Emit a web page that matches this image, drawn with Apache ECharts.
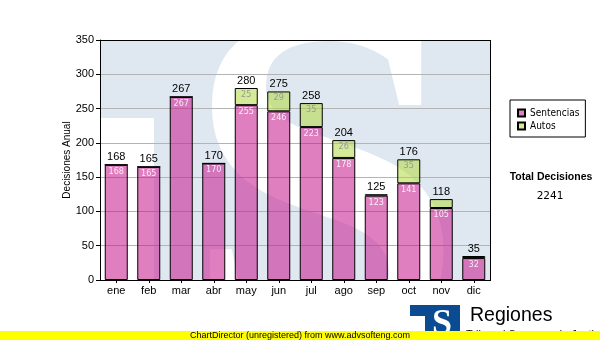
<!DOCTYPE html>
<html>
<head>
<meta charset="utf-8">
<script src="https://cdn.jsdelivr.net/npm/echarts@6/dist/echarts.min.js"></script>
<style>
  html, body { margin: 0; padding: 0; background: #fff; }
  #chart { width: 600px; height: 340px; }
</style>
</head>
<body>
<div id="chart"></div>
<script>
// Monthly decisions, split by type
const months = ['ene', 'feb', 'mar', 'abr', 'may', 'jun', 'jul', 'ago', 'sep', 'oct', 'nov', 'dic'];
const sentencias = [168, 165, 267, 170, 255, 246, 223, 178, 123, 141, 105, 32];
const autos = [0, 0, 0, 0, 25, 29, 35, 26, 2, 35, 13, 3];
const seriesNames = ['Sentencias', 'Autos'];
const yMin = 0;
const yMax = 350;
const yStep = 50;
const yTitle = 'Decisiones Anual';
const totalTitle = 'Total Decisiones';

const totals = months.map((_, i) => sentencias[i] + autos[i]);
const grandTotal = totals.reduce((a, b) => a + b, 0);

const SANS = '"Liberation Sans", Arial, sans-serif';
const SMALL = '"DejaVu Sans Condensed", "DejaVu Sans", sans-serif';

const chart = echarts.init(document.getElementById('chart'), null, { renderer: 'canvas' });

// hide the inner value label on segments too thin to hold it
const segData = (arr) => arr.map(v => ({ value: v, label: { show: v >= 15 } }));

const option = {
  animation: false,
  backgroundColor: '#ffffff',
  grid: { left: 100, right: 110, top: 40, bottom: 60, containLabel: false },
  legend: {
    data: seriesNames,
    orient: 'vertical',
    left: 510,
    top: 100,
    padding: [7, 6, 5, 7],
    itemGap: 1,
    itemWidth: 7,
    itemHeight: 7,
    icon: 'rect',
    borderColor: '#000',
    borderWidth: 1,
    backgroundColor: '#fff',
    textStyle: { fontFamily: SMALL, fontSize: 10, color: '#000', lineHeight: 12 }
  },
  xAxis: {
    type: 'category',
    data: months,
    axisLine: { show: true, lineStyle: { color: '#000', width: 1 } },
    axisTick: { show: true, alignWithLabel: true, length: 3, lineStyle: { color: '#000' } },
    axisLabel: { color: '#000', fontFamily: SANS, fontSize: 11, margin: 5 },
    splitLine: { show: false }
  },
  yAxis: {
    type: 'value',
    min: yMin,
    max: yMax,
    interval: yStep,
    name: yTitle,
    nameLocation: 'middle',
    nameGap: 28,
    nameMoveOverlap: false,
    nameTextStyle: { color: '#000', fontFamily: SANS, fontSize: 10 },
    axisLine: { show: true, lineStyle: { color: '#000', width: 1 } },
    axisTick: { show: true, length: 4, lineStyle: { color: '#000' } },
    axisLabel: { color: '#000', fontFamily: SANS, fontSize: 11, margin: 6 },
    splitLine: { show: true, lineStyle: { color: '#b4b4b4', width: 1 } }
  },
  series: [
    {
      name: seriesNames[0],
      type: 'bar',
      stack: 'dec',
      barWidth: 23,
      data: segData(sentencias),
      itemStyle: { color: 'rgba(198,22,140,0.55)', borderColor: '#000', borderWidth: 1 },
      label: {
        position: 'insideTop',
        distance: 2,
        color: 'rgba(255,255,255,0.85)',
        fontFamily: SMALL,
        fontSize: 9
      },
      emphasis: { disabled: true }
    },
    {
      name: seriesNames[1],
      type: 'bar',
      stack: 'dec',
      barWidth: 23,
      data: segData(autos),
      itemStyle: { color: 'rgba(178,216,64,0.55)', borderColor: '#000', borderWidth: 1 },
      label: {
        position: 'insideTop',
        distance: 2,
        color: '#999999',
        fontFamily: SMALL,
        fontSize: 9
      },
      emphasis: { disabled: true }
    },
    {
      // zero-height cap carrying the stack total above each bar
      name: 'total',
      type: 'bar',
      stack: 'dec',
      barWidth: 23,
      data: months.map(() => 0),
      itemStyle: { color: 'transparent', borderWidth: 0 },
      label: {
        show: true,
        position: 'top',
        distance: 2,
        color: '#000',
        fontFamily: SANS,
        fontSize: 11,
        formatter: (p) => String(totals[p.dataIndex])
      },
      emphasis: { disabled: true }
    }
  ],
  graphic: [
    // watermark backdrop inside the plot
    {
      type: 'polygon', z: -20, silent: true,
      shape: { points: [[100, 40], [490, 40], [490, 280], [154, 280], [154, 118], [100, 118]] },
      style: { fill: '#dfe8f1' }
    },
    {
      type: 'text', z: -19, silent: true,
      x: 324, y: 220,
      style: { text: 'S', font: 'bold 507px "Liberation Serif", serif', fill: '#ffffff', align: 'center', verticalAlign: 'middle' }
    },
    // plot frame, top and right edges
    {
      type: 'line', z: 50, silent: true,
      shape: { x1: 100, y1: 40.5, x2: 491, y2: 40.5 },
      style: { stroke: '#000', lineWidth: 1 }
    },
    {
      type: 'line', z: 50, silent: true,
      shape: { x1: 490.5, y1: 40, x2: 490.5, y2: 281 },
      style: { stroke: '#000', lineWidth: 1 }
    },
    // grand total
    {
      type: 'text', z: 50, silent: true,
      x: 551, y: 177,
      style: { text: totalTitle, font: 'bold 10.5px ' + SANS, fill: '#000', align: 'center', verticalAlign: 'middle' }
    },
    {
      type: 'text', z: 50, silent: true,
      x: 550, y: 196,
      style: { text: String(grandTotal), font: '10.5px "DejaVu Sans", sans-serif', fill: '#000', align: 'center', verticalAlign: 'middle' }
    },
    // logo block
    {
      type: 'polygon', z: 50, silent: true,
      shape: { points: [[410, 305], [460, 305], [460, 340], [425, 340], [425, 316], [410, 316]] },
      style: { fill: '#0b4b92' }
    },
    {
      type: 'text', z: 51, silent: true,
      x: 442, y: 325,
      style: { text: 'S', font: 'bold 36px "Liberation Serif", serif', fill: '#ffffff', align: 'center', verticalAlign: 'middle' }
    },
    {
      type: 'text', z: 51, silent: true,
      x: 470, y: 316,
      style: { text: 'Regiones', font: '19.5px ' + SANS, fill: '#000', align: 'left', verticalAlign: 'middle' }
    },
    {
      type: 'text', z: 51, silent: true,
      x: 466, y: 334.5,
      style: { text: 'Tribunal Supremo de Justicia', font: '11px ' + SANS, fill: '#000', align: 'left', verticalAlign: 'middle' }
    },
    // footer band
    {
      type: 'rect', z: 60, silent: true,
      shape: { x: 0, y: 331, width: 600, height: 9 },
      style: { fill: '#ffff00' }
    },
    {
      type: 'text', z: 61, silent: true,
      x: 300, y: 335.5,
      style: { text: 'ChartDirector (unregistered) from www.advsofteng.com', font: '9px ' + SANS, fill: '#000', align: 'center', verticalAlign: 'middle' }
    }
  ]
};

chart.setOption(option);
</script>
</body>
</html>
